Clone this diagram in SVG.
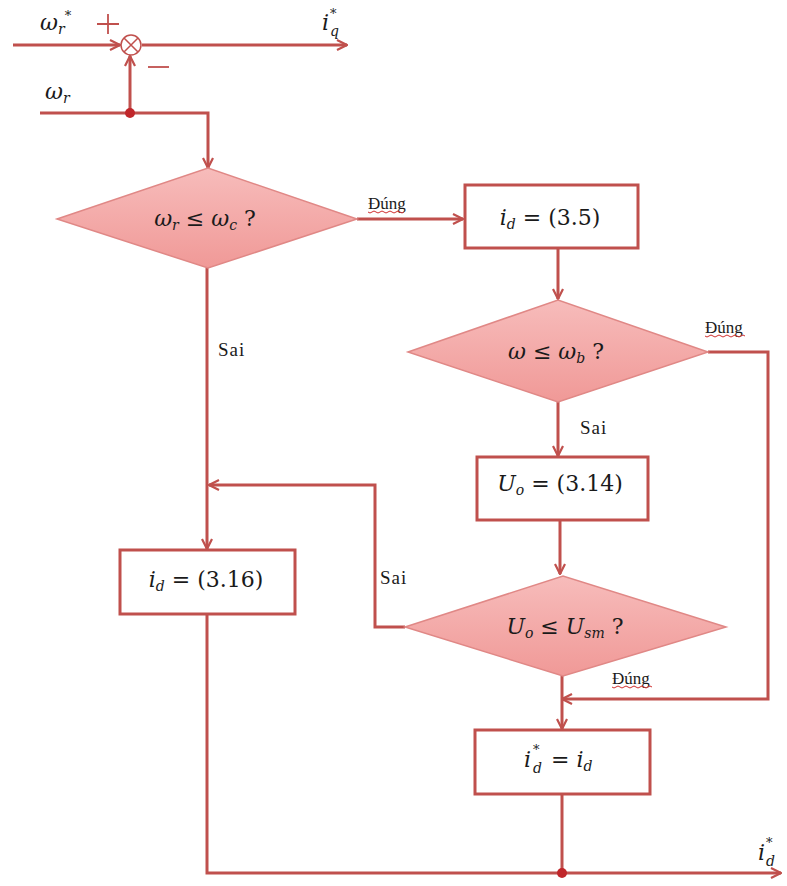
<svg xmlns="http://www.w3.org/2000/svg" width="787" height="886" viewBox="0 0 787 886">
<defs>
<linearGradient id="pink" x1="0" y1="0" x2="0" y2="1">
<stop offset="0" stop-color="#f7bcbb"/>
<stop offset="1" stop-color="#f09997"/>
</linearGradient>
<marker id="arr" viewBox="0 0 12 12" refX="11" refY="6" markerWidth="12" markerHeight="12" markerUnits="userSpaceOnUse" orient="auto">
<path d="M1,1 L11,6 L1,11" fill="none" stroke="#c0504d" stroke-width="2.2"/>
</marker>
</defs>
<style>
.ln{fill:none;stroke:#c0504d;stroke-width:3;stroke-linejoin:miter}
.box{fill:#ffffff;stroke:#c0504d;stroke-width:3}
.dia{fill:url(#pink);stroke:#e08886;stroke-width:1.5}
.m{font-family:"DejaVu Serif","Liberation Serif",serif;font-style:italic;font-size:22px;fill:#1a1a1a}
.sup{font-size:13px}
.sub{font-size:14px}
.lb{font-family:"Liberation Serif",serif;font-size:19px;fill:#1a1a1a;letter-spacing:1px}
.dg{font-family:"Liberation Serif",serif;font-size:17px;fill:#1a1a1a}
.wv{fill:none;stroke:#d03030;stroke-width:1}
.dot{fill:#c0262a}
</style>
<g id="connectors">
<path class="ln" d="M13,45 L120,45" marker-end="url(#arr)"/>
<path class="ln" d="M142,45 L347,45" marker-end="url(#arr)"/>
<path class="ln" d="M130,113 L130,56" marker-end="url(#arr)"/>
<path class="ln" d="M40,113 L208,113 L208,168" marker-end="url(#arr)"/>
<path class="ln" d="M357,219 L463,219" marker-end="url(#arr)"/>
<path class="ln" d="M558,248 L558,299" marker-end="url(#arr)"/>
<path class="ln" d="M558,402 L558,456" marker-end="url(#arr)"/>
<path class="ln" d="M560,520 L560,574" marker-end="url(#arr)"/>
<path class="ln" d="M708,352 L768,352 L768,699 L562,699" marker-end="url(#arr)"/>
<path class="ln" d="M562,676 L562,729" marker-end="url(#arr)"/>
<path class="ln" d="M207,268 L207,549" marker-end="url(#arr)"/>
<path class="ln" d="M405,627 L375,627 L375,485 L209,485" marker-end="url(#arr)"/>
<path class="ln" d="M207,614 L207,873 L781,873" marker-end="url(#arr)"/>
<path class="ln" d="M562,794 L562,873"/>
<circle class="dot" cx="130" cy="113" r="5"/>
<circle class="dot" cx="562" cy="873" r="5"/>
</g>
<g id="sum">
<circle cx="131" cy="45" r="10" fill="#fff" stroke="#c0504d" stroke-width="1.5"/>
<path d="M124,38 L138,52 M138,38 L124,52" stroke="#c0504d" stroke-width="1.5"/>
<path d="M97,24 L119,24 M108,14 L108,34" stroke="#c0504d" stroke-width="1.8"/>
<path d="M148,67 L169,67" stroke="#c0504d" stroke-width="1.8"/>
</g>
<g id="labels-top">
<text class="m" x="40" y="30">ω<tspan class="sub" dy="4">r</tspan><tspan class="sup" dy="-14">*</tspan></text>
<text class="m" x="45" y="99">ω<tspan class="sub" dy="4">r</tspan></text>
<text class="m" x="322" y="30">i</text>
<text class="m sup" x="330" y="18">*</text>
<text class="m sub" x="330" y="36">q</text>
<text class="m" x="758" y="860">i</text>
<text class="m sup" x="766" y="847">*</text>
<text class="m sub" x="766" y="866">d</text>
</g>
<g id="dec1">
<polygon class="dia" points="57,219 208,168 357,219 208,268"/>
<text class="m" x="205" y="226" text-anchor="middle">ω<tspan class="sub" dy="4">r</tspan><tspan dy="-4" font-style="normal"> ≤ </tspan>ω<tspan class="sub" dy="4">c</tspan><tspan dy="-4" font-style="normal"> ?</tspan></text>
</g>
<g id="box1">
<rect class="box" x="465" y="185" width="173" height="63"/>
<text class="m" x="550" y="225" text-anchor="middle">i<tspan class="sub" dy="4">d</tspan><tspan dy="-4" font-style="normal"> = (3.5)</tspan></text>
</g>
<g id="dec2">
<polygon class="dia" points="408,352 558,300 708,352 558,402"/>
<text class="m" x="556" y="359" text-anchor="middle">ω<tspan font-style="normal"> ≤ </tspan>ω<tspan class="sub" dy="4">b</tspan><tspan dy="-4" font-style="normal"> ?</tspan></text>
</g>
<g id="box3">
<rect class="box" x="477" y="457" width="171" height="63"/>
<text class="m" x="560" y="491" text-anchor="middle">U<tspan class="sub" dy="4">o</tspan><tspan dy="-4" font-style="normal"> = (3.14)</tspan></text>
</g>
<g id="dec4">
<polygon class="dia" points="405,627 563,576 726,627 563,676"/>
<text class="m" x="565" y="634" text-anchor="middle">U<tspan class="sub" dy="4">o</tspan><tspan dy="-4" font-style="normal"> ≤ </tspan>U<tspan class="sub" dy="4">sm</tspan><tspan dy="-4" font-style="normal"> ?</tspan></text>
</g>
<g id="box5">
<rect class="box" x="475" y="730" width="175" height="64"/>
<text class="m" x="524" y="767">i</text>
<text class="m sup" x="533" y="754">*</text>
<text class="m sub" x="533" y="773">d</text>
<text class="m" x="551" y="767"><tspan font-style="normal">= </tspan>i<tspan class="sub" dy="4">d</tspan></text>
</g>
<g id="box4">
<rect class="box" x="120" y="550" width="175" height="64"/>
<text class="m" x="206" y="587" text-anchor="middle">i<tspan class="sub" dy="4">d</tspan><tspan dy="-4" font-style="normal"> = (3.16)</tspan></text>
</g>
<g id="edge-labels">
<text class="dg" x="368" y="209">Đúng</text>
<path class="wv" d="M368,212 q2,2 4,0 t4,0 t4,0 t4,0 t4,0 t4,0 t4,0 t4,0 t4,0"/>
<text class="lb" x="218" y="356">Sai</text>
<text class="dg" x="705" y="333">Đúng</text>
<path class="wv" d="M705,336 q2,2 4,0 t4,0 t4,0 t4,0 t4,0 t4,0 t4,0 t4,0 t4,0 t4,0"/>
<text class="lb" x="580" y="434">Sai</text>
<text class="lb" x="380" y="584">Sai</text>
<text class="dg" x="612" y="684">Đúng</text>
<path class="wv" d="M612,687 q2,2 4,0 t4,0 t4,0 t4,0 t4,0 t4,0 t4,0 t4,0 t4,0 t4,0"/>
</g>
</svg>
